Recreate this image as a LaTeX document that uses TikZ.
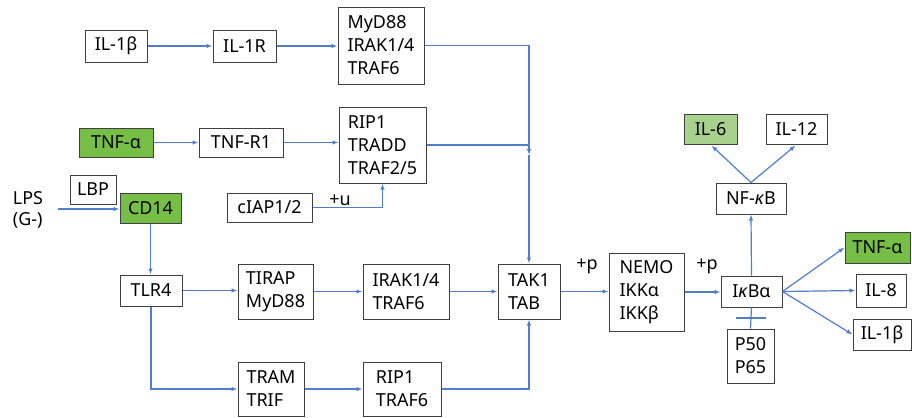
\documentclass[tikz,border=0pt]{standalone}
\usepackage{fontspec}
\setmainfont{Noto Sans}
\usetikzlibrary{arrows.meta,calc}
\definecolor{edgeblue}{RGB}{80,125,205}
\definecolor{boxgray}{RGB}{64,64,64}
\definecolor{gstrong}{RGB}{118,190,70}
\definecolor{glight}{RGB}{169,209,142}
\tikzset{
  box/.style={draw=boxgray,line width=1bp,fill=white,inner sep=0pt,align=left,
    font=\fontsize{18}{23}\selectfont},
  gbox/.style={box,fill=gstrong},
  lbox/.style={box,fill=glight},
  arr/.style={draw=edgeblue,line width=1.2bp,-{Latex[length=6bp,width=4.5bp]}},
  ln/.style={draw=edgeblue,line width=1.2bp},
  lbl/.style={font=\fontsize{18}{23}\selectfont,inner sep=0pt}
}
\begin{document}
\begin{tikzpicture}[x=1bp,y=-1bp]
\useasboundingbox (0,0) rectangle (912,417);
% top row
\node[box,minimum width=62bp,minimum height=32bp] (IL1b) at (116,46) {IL-1β};
\node[box,minimum width=63bp,minimum height=32bp] (IL1R) at (244.5,46) {IL-1R};
\node[box,minimum width=86bp,minimum height=77bp] (MyD) at (381,45.5) {MyD88\\IRAK1/4\\TRAF6};
% TNF row
\node[gbox,minimum width=74bp,minimum height=29bp] (TNFa) at (116,142.5) {TNF-α};
\node[box,minimum width=84bp,minimum height=29bp] (TNFR) at (241,142.5) {TNF-R1};
\node[box,minimum width=87bp,minimum height=76bp] (RIPa) at (382.5,145) {RIP1\\TRADD\\TRAF2/5};
\node[box,minimum width=85bp,minimum height=29bp] (cIAP) at (269.5,207.5) {cIAP1/2};
% LPS
\node[box,minimum width=46bp,minimum height=29bp] (LBP) at (93,189.5) {LBP};
\node[gbox,minimum width=61bp,minimum height=30bp] (CD14) at (150.5,208) {CD14};
\node[lbl,align=left,font=\fontsize{18}{21}\selectfont] (LPS) at (28,210) {LPS\\(G-)};
\coordinate (lpsin) at (58,209);
% TLR4 rows
\node[box,minimum width=62bp,minimum height=31bp] (TLR4) at (151,290.5) {TLR4};
\node[box,minimum width=75bp,minimum height=55bp] (TIRAP) at (275.5,291.5) {TIRAP\\MyD88};
\node[box,minimum width=86bp,minimum height=55bp] (IRAK) at (406,291.5) {IRAK1/4\\TRAF6};
\node[box,minimum width=62bp,minimum height=55bp] (TAK) at (529,291.5) {TAK1\\TAB};
\node[box,minimum width=66bp,minimum height=54bp] (TRAM) at (271,389) {TRAM\\TRIF};
\node[box,minimum width=78bp,minimum height=54bp] (RIPb) at (402,389) {RIP1\\TRAF6};
% right part
\node[box,minimum width=75bp,minimum height=78bp] (NEMO) at (646.5,292) {NEMO\\IKKα\\IKKβ};
\node[box,minimum width=61bp,minimum height=31bp] (IkB) at (751.5,291.5) {I\textit{κ}Bα};
\node[box,minimum width=70bp,minimum height=31bp] (NFkB) at (751,198.5) {NF-\textit{κ}B};
\node[lbox,minimum width=53bp,minimum height=30bp] (IL6) at (710.5,129) {IL-6};
\node[box,minimum width=61bp,minimum height=30bp] (IL12) at (796.5,129) {IL-12};
\node[gbox,minimum width=65bp,minimum height=31bp] (TNFb) at (877.5,247.5) {TNF-α};
\node[box,minimum width=50bp,minimum height=33bp] (IL8) at (881,290.5) {IL-8};
\node[box,minimum width=58bp,minimum height=31bp] (IL1c) at (882,334.5) {IL-1β};
\node[box,minimum width=47bp,minimum height=54bp] (P50) at (750.5,356) {P50\\P65};
% labels
\node[lbl] (pu) at (340,200) {+u};
\node[lbl] (p1) at (587,266) {+p};
\node[lbl] (p2) at (707,266) {+p};
% connectors
\draw[arr] (IL1b) -- (IL1R);
\draw[arr] (IL1R) -- (IL1R -| MyD.west);
\coordinate (j1) at (529,155);
\draw[arr] (MyD.east) -| (j1);
\draw[ln] (RIPa.east) -- (RIPa.east -| j1);
\draw[arr] (j1) -- (TAK.north);
\draw[arr] (TNFa) -- (TNFR);
\draw[arr] (TNFR) -- (TNFR -| RIPa.west);
\draw[arr] (cIAP.east) -| (RIPa.south);
\draw[arr] (lpsin) -- (lpsin -| CD14.west);
\draw[arr] (CD14.south) -- (CD14.south |- TLR4.north);
\draw[arr] (TLR4.east) -- (TLR4.east -| TIRAP.west);
\draw[arr] (TLR4.south) |- (TRAM.west);
\draw[arr] (TIRAP) -- (IRAK);
\draw[arr] (IRAK) -- (TAK);
\draw[arr] (TRAM) -- (RIPb);
\draw[arr] (RIPb.east) -| (TAK.south);
\draw[arr] (TAK) -- (TAK -| NEMO.west);
\draw[arr] (NEMO) -- (NEMO -| IkB.west);
\draw[arr] (IkB.north) -- (NFkB.south);
\draw[arr] (NFkB.north) -- ($(IL6.south)+(1,1)$);
\draw[arr] (NFkB.north) -- ($(IL12.south)+(-1,1)$);
\draw[arr] (IkB.east) -- (TNFb.west);
\draw[arr] (IkB.east) -- (IL8.west);
\draw[arr] (IkB.east) -- (IL1c.west);
\draw[ln] (IkB.south) -- (P50.north);
\coordinate (barl) at (736,318);
\coordinate (barr) at (766,318);
\draw[ln] (barl) -- (barr);
\end{tikzpicture}
\end{document}
